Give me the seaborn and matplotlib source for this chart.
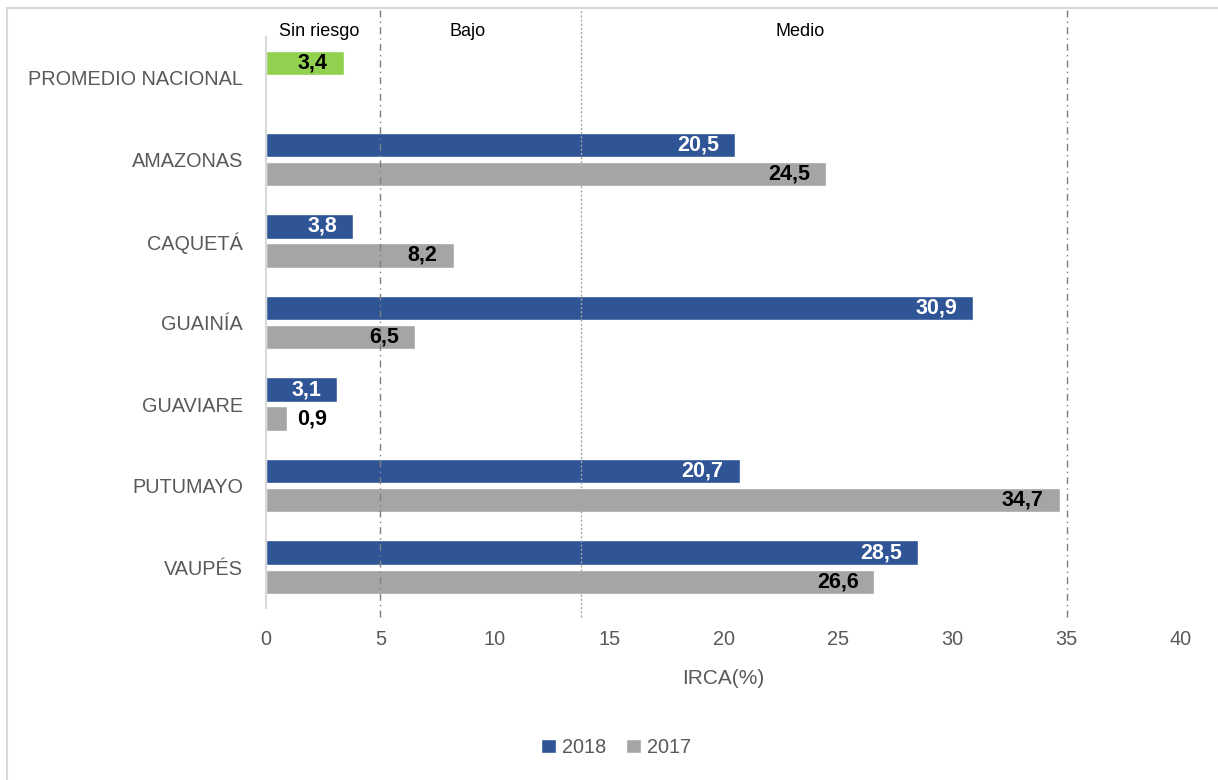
import matplotlib
matplotlib.use("Agg")
import matplotlib.pyplot as plt
from matplotlib.patches import Rectangle
import seaborn as sns
import pandas as pd

# IRCA (%) by department, 2018 vs 2017
categorias = ["PROMEDIO NACIONAL", "AMAZONAS", "CAQUETÁ", "GUAINÍA",
              "GUAVIARE", "PUTUMAYO", "VAUPÉS"]
irca_2018 = [3.4, 20.5, 3.8, 30.9, 3.1, 20.7, 28.5]
irca_2017 = [None, 24.5, 8.2, 6.5, 0.9, 34.7, 26.6]
anios = ["2018", "2017"]

# risk band boundaries and their headings
limites_riesgo = [5, 13.75, 35]
bandas = ["Sin riesgo", "Bajo", "Medio"]
bandas_x = [2.32, 8.83, 23.34]

AZUL = "#2F5597"
GRIS = "#A5A5A5"
VERDE = "#92D050"
TEXTO = "#595959"

rows = []
for cat, v18, v17 in zip(categorias, irca_2018, irca_2017):
    if v18 is not None:
        rows.append({"Departamento": cat, "Año": "2018", "IRCA": v18})
    if v17 is not None:
        rows.append({"Departamento": cat, "Año": "2017", "IRCA": v17})
df = pd.DataFrame(rows)

sns.set_theme(style="white")
plt.rcParams["font.family"] = ["Liberation Sans", "DejaVu Sans"]

W, H = 1218, 780
fig = plt.figure(figsize=(W / 100, H / 100), dpi=100)
ax = fig.add_axes([266 / W, 1 - 608 / H, (1181 - 266) / W, 571 / H])

sns.barplot(data=df, y="Departamento", x="IRCA", hue="Año", hue_order=anios,
            order=categorias, palette=[AZUL, GRIS], orient="h", width=0.712,
            gap=0.16, saturation=1, errorbar=None, ax=ax)

ax.set_xlim(0, 40)
ax.set_ylim(6.5, -0.5)
ax.set_xticks(range(0, 41, 5))

# national average bar in green
cont18, cont17 = ax.containers[0], ax.containers[1]
promedio_bar = cont18[0]
promedio_bar.set_facecolor(VERDE)

# value labels
for cont, col in ((cont18, "white"), (cont17, "black")):
    for patch in cont:
        w = patch.get_width()
        if w != w:  # NaN
            continue
        yc = patch.get_y() + patch.get_height() / 2
        txt = f"{w:.1f}".replace(".", ",")
        c = "black" if patch is promedio_bar else col
        if w < 2:
            ax.annotate(txt, xy=(w, yc), xytext=(7.7, 0), textcoords="offset points",
                        ha="left", va="center", fontsize=15.5, fontweight="bold",
                        color="black")
        else:
            ax.annotate(txt, xy=(w, yc), xytext=(-11.5, 0), textcoords="offset points",
                        ha="right", va="center", fontsize=15.5, fontweight="bold",
                        color=c)

# risk band boundaries
trans = ax.get_xaxis_transform()
estilos = [((0, (5, 3, 1, 3)), "#7F7F7F"), ((0, (1.5, 1.5)), "#A6A6A6"),
           ((0, (5, 3, 1, 3)), "#7F7F7F")]
for x, (ls, col) in zip(limites_riesgo, estilos):
    ax.plot([x, x], [-0.016, 1.049], transform=trans, clip_on=False,
            ls=ls, color=col, lw=1)
for nombre, x in zip(bandas, bandas_x):
    ax.text(x, 1.0105, nombre, transform=trans, ha="center", va="center",
            fontsize=13, color="black")

# axes styling
for s in ("top", "right", "bottom"):
    ax.spines[s].set_visible(False)
ax.spines["left"].set_color("#D9D9D9")
ax.spines["left"].set_linewidth(1.5)
ax.tick_params(axis="both", length=0, labelsize=14.3, colors=TEXTO)
ax.tick_params(axis="y", pad=16.5)
ax.tick_params(axis="x", pad=15.5)
ax.set_ylabel("")
ax.set_xlabel("IRCA(%)", fontsize=15, color=TEXTO, labelpad=15)

sns.move_legend(ax, "center", bbox_to_anchor=(0.506, 0.042),
                bbox_transform=fig.transFigure, ncol=2, frameon=False, title=None,
                fontsize=14.3, handlelength=0.75, handleheight=0.75,
                handletextpad=0.3, columnspacing=1.0, labelcolor=TEXTO)

# chart area border
fig.patches.append(Rectangle((7 / W, -0.1), 1.2, 1 - 8 / H + 0.1,
                             transform=fig.transFigure, fill=False,
                             edgecolor="#D9D9D9", lw=1.5))

fig.savefig("out.png", dpi=100)
